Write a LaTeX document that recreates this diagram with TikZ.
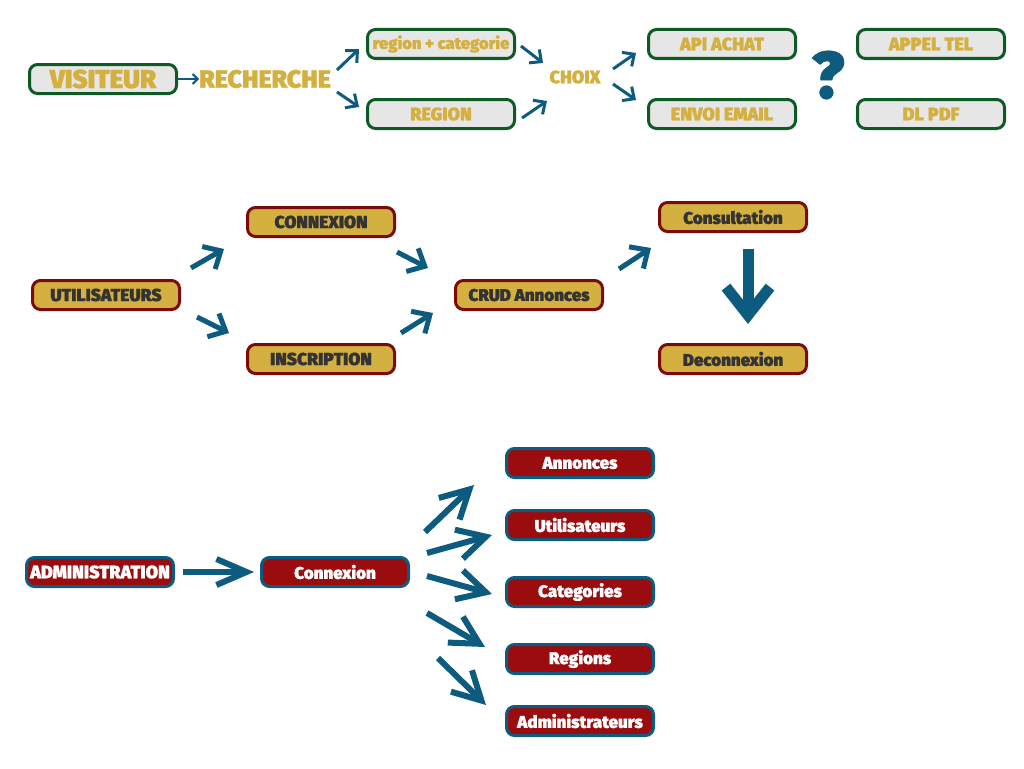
\documentclass[tikz,border=0pt]{standalone}
\usepackage{fontspec}
\setmainfont{Fira Sans}[BoldFont={Fira Sans Black},BoldFeatures={FakeBold=0.8}]
\usetikzlibrary{arrows.meta}
\definecolor{gold}{HTML}{D4B040}
\definecolor{dgreen}{HTML}{0E5A25}
\definecolor{lgray}{HTML}{E6E6E6}
\definecolor{dred}{HTML}{7B0A0A}
\definecolor{rfill}{HTML}{9B0C0E}
\definecolor{ablue}{HTML}{0D5C7F}
\definecolor{dtext}{HTML}{333333}
\newcommand{\fsz}[1]{\bfseries\fontsize{#1}{#1}\selectfont}
\tikzset{
  box/.style={rounded corners=8pt, line width=3pt, minimum width=147pt, minimum height=29pt, inner sep=0pt, font=\fsz{17}},
  vbox/.style={box, draw=dgreen, fill=lgray, text=gold},
  ubox/.style={box, draw=dred, fill=gold, text=dtext},
  abox/.style={box, draw=ablue, fill=rfill, text=white},
  lbl/.style={text=gold, font=\fsz{18}, inner sep=0pt},
  thinarr/.style={draw=ablue, line width=2pt, line join=miter, -{Straight Barb[length=5pt,width=10pt]}},
  smarr/.style={draw=ablue, line width=3pt, line join=miter, -{Straight Barb[length=9pt,width=17pt]}},
  medarr/.style={draw=ablue, line width=5pt, line join=miter, -{Straight Barb[length=14pt,width=26pt]}},
  bigarr/.style={draw=ablue, line width=6pt, line join=miter, -{Straight Barb[length=28pt,width=30pt]}},
  hugearr/.style={draw=ablue, line width=11pt, line join=miter, -{Straight Barb[length=28pt,width=44pt]}},
}
\begin{document}
\begin{tikzpicture}[x=1pt,y=-1pt]
\useasboundingbox (0,0) rectangle (1024,768);
% ---- section 1
\node[vbox, font=\fsz{26}] (vis) at (103,79) {VISITEUR};
\node[lbl, font=\fsz{25}] (rech) at (265,79) {RECHERCHE};
\node[vbox, font=\fsz{16.5}] (rc) at (441,44) {region + categorie};
\node[vbox, font=\fsz{18}] (reg) at (441,114) {REGION};
\node[lbl] (choix) at (575,77) {CHOIX};
\node[vbox, font=\fsz{18}] (api) at (722,44) {API ACHAT};
\node[vbox, font=\fsz{18}] (env) at (722,114) {ENVOI EMAIL};
\node[text=ablue, font=\fsz{66}, inner sep=0pt] (q) at (828,75) {?};
\node[vbox, font=\fsz{18}] (tel) at (931,44) {APPEL TEL};
\node[vbox, font=\fsz{18}] (pdf) at (931,114) {DL PDF};
\draw[thinarr] (vis.east) -- (rech.west);
\coordinate (s1a) at (337,70); \coordinate (e1a) at (359,49);
\coordinate (s1b) at (337,92); \coordinate (e1b) at (359,107);
\coordinate (s1c) at (521,46); \coordinate (e1c) at (543,63);
\coordinate (s1d) at (522,118); \coordinate (e1d) at (547,101);
\coordinate (s1e) at (613,69); \coordinate (e1e) at (636,53);
\coordinate (s1f) at (613,84); \coordinate (e1f) at (636,100);
\draw[smarr] (s1a) -- (e1a);
\draw[smarr] (s1b) -- (e1b);
\draw[smarr] (s1c) -- (e1c);
\draw[smarr] (s1d) -- (e1d);
\draw[smarr] (s1e) -- (e1e);
\draw[smarr] (s1f) -- (e1f);
% ---- section 2
\node[ubox, font=\fsz{17.5}] (uti) at (106,295) {UTILISATEURS};
\node[ubox, font=\fsz{17.5}] (con) at (321,222) {CONNEXION};
\node[ubox, font=\fsz{17.5}] (ins) at (321,359) {INSCRIPTION};
\node[ubox] (crud) at (529,295) {CRUD Annonces};
\node[ubox] (cons) at (733,217) {Consultation};
\node[ubox] (deco) at (733,359) {Deconnexion};
\coordinate (s2a) at (191,268); \coordinate (e2a) at (224,249);
\coordinate (s2b) at (197,317); \coordinate (e2b) at (229,333);
\coordinate (s2c) at (397,252); \coordinate (e2c) at (428,268);
\coordinate (s2d) at (401,333); \coordinate (e2d) at (433,313);
\coordinate (s2e) at (619,269); \coordinate (e2e) at (651,248);
\coordinate (s2f) at (748,249); \coordinate (e2f) at (748,324);
\draw[medarr] (s2a) -- (e2a);
\draw[medarr] (s2b) -- (e2b);
\draw[medarr] (s2c) -- (e2c);
\draw[medarr] (s2d) -- (e2d);
\draw[medarr] (s2e) -- (e2e);
\draw[hugearr] (s2f) -- (e2f);
% ---- section 3
\node[abox, font=\fsz{18}] (adm) at (100,572) {ADMINISTRATION};
\node[abox] (acon) at (335,572) {Connexion};
\node[abox] (ann) at (580,463) {Annonces};
\node[abox] (aut) at (580,525) {Utilisateurs};
\node[abox] (cat) at (580,592) {Categories};
\node[abox] (rgs) at (580,659) {Regions};
\node[abox] (adms) at (580,721) {Administrateurs};
\draw[bigarr, -{Straight Barb[length=30pt,width=26pt]}] ([xshift=8pt]adm.east) -- ([xshift=-6pt]acon.west);
\coordinate (s3a) at (425,532); \coordinate (e3a) at (474,485);
\coordinate (s3b) at (427,553); \coordinate (e3b) at (492,535);
\coordinate (s3c) at (427,576); \coordinate (e3c) at (492,594);
\coordinate (s3d) at (427,613); \coordinate (e3d) at (485,647);
\coordinate (s3e) at (438,658); \coordinate (e3e) at (486,705);
\draw[bigarr] (s3a) -- (e3a);
\draw[bigarr] (s3b) -- (e3b);
\draw[bigarr] (s3c) -- (e3c);
\draw[bigarr] (s3d) -- (e3d);
\draw[bigarr] (s3e) -- (e3e);
\end{tikzpicture}
\end{document}
